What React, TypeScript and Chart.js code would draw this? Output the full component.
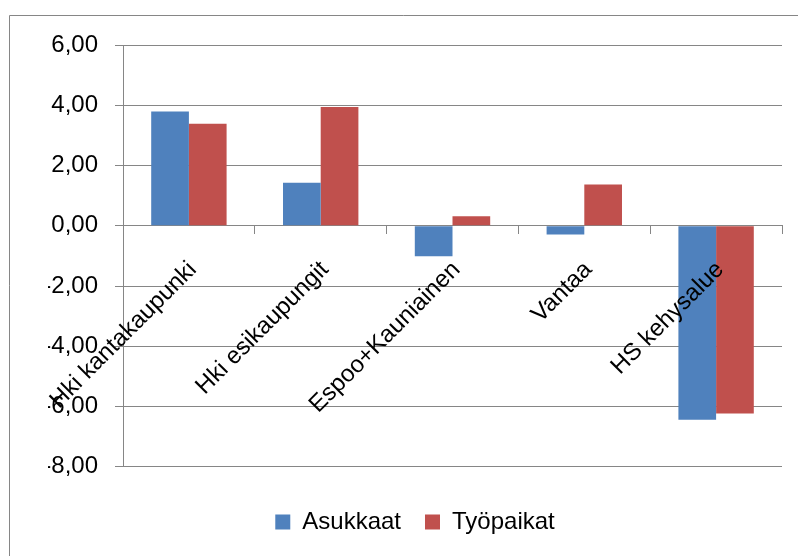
import React, { useEffect, useRef } from "react";
import { Chart, registerables } from "chart.js";

Chart.register(...registerables);

// Change by region (percentage points)
const regions = [
  "Hki kantakaupunki",
  "Hki esikaupungit",
  "Espoo+Kauniainen",
  "Vantaa",
  "HS kehysalue",
];
const residents = [3.79, 1.43, -1.01, -0.29, -6.44];
const jobs = [3.39, 3.94, 0.32, 1.37, -6.23];
const seriesNames = ["Asukkaat", "Työpaikat"];

const Y_MIN = -8;
const Y_MAX = 6;
const Y_STEP = 2;

const FONT = '"Liberation Sans", Arial, sans-serif';
const GRAY = "#868686";

// Outer frame line (top and left edges of the chart box)
const framePlugin = {
  id: "frame",
  beforeDraw(chart: Chart) {
    const ctx = chart.ctx;
    ctx.save();
    ctx.strokeStyle = GRAY;
    ctx.lineWidth = 1;
    ctx.beginPath();
    ctx.moveTo(9.5, chart.height);
    ctx.lineTo(9.5, 15.5);
    ctx.lineTo(chart.width, 15.5);
    ctx.stroke();
    ctx.restore();
  },
};

export default function App() {
  const canvasRef = useRef<HTMLCanvasElement | null>(null);

  useEffect(() => {
    const canvas = canvasRef.current;
    if (!canvas) return;
    const chart = new Chart(canvas, {
      type: "bar",
      data: {
        labels: regions,
        datasets: [
          {
            label: seriesNames[0],
            data: residents,
            backgroundColor: "#4F81BD",
            barPercentage: 1,
            categoryPercentage: 0.572,
          },
          {
            label: seriesNames[1],
            data: jobs,
            backgroundColor: "#C0504D",
            barPercentage: 1,
            categoryPercentage: 0.572,
          },
        ],
      },
      options: {
        responsive: false,
        animation: false,
        layout: { padding: { top: 45, left: 48, right: 16, bottom: 12 } },
        plugins: {
          tooltip: { enabled: false },
          legend: {
            position: "bottom",
            // empty title only adds a gap between the plot and the legend row
            title: { display: true, text: "", font: { size: 1 }, padding: { top: 0, bottom: 18 } },
            labels: {
              boxWidth: 15,
              boxHeight: 15,
              padding: 24,
              color: "#000",
              font: { family: FONT, size: 24 },
            },
          },
        },
        scales: {
          x: {
            position: { y: 0 },
            offset: true,
            grid: {
              display: true,
              drawOnChartArea: false,
              drawTicks: true,
              tickLength: 8,
              color: GRAY,
            },
            border: { color: GRAY },
            ticks: {
              z: 1, // category names are painted over the bars
              autoSkip: false,
              minRotation: 45,
              maxRotation: 45,
              padding: 22,
              labelOffset: 4,
              color: "#000",
              font: { family: FONT, size: 24 },
            },
            afterFit(scale: any) {
              scale.height = 0;
              scale.paddingLeft = 0;
              scale.paddingRight = 0;
            },
          },
          y: {
            min: Y_MIN,
            max: Y_MAX,
            ticks: {
              stepSize: Y_STEP,
              padding: 17,
              color: "#000",
              font: { family: FONT, size: 24 },
              callback: (v: any) => Number(v).toFixed(2).replace(".", ","),
            },
            grid: { color: GRAY, tickLength: 8, drawTicks: true },
            border: { color: GRAY },
            afterFit(scale: any) {
              scale.width = 75;
              scale.paddingTop = 0;
              scale.paddingBottom = 0;
            },
          },
        },
      },
      plugins: [framePlugin],
    });
    return () => chart.destroy();
  }, []);

  return (
    <div style={{ position: "absolute", left: 0, top: 0, width: 798, height: 556, background: "#fff" }}>
      <canvas ref={canvasRef} width={798} height={556} />
    </div>
  );
}
